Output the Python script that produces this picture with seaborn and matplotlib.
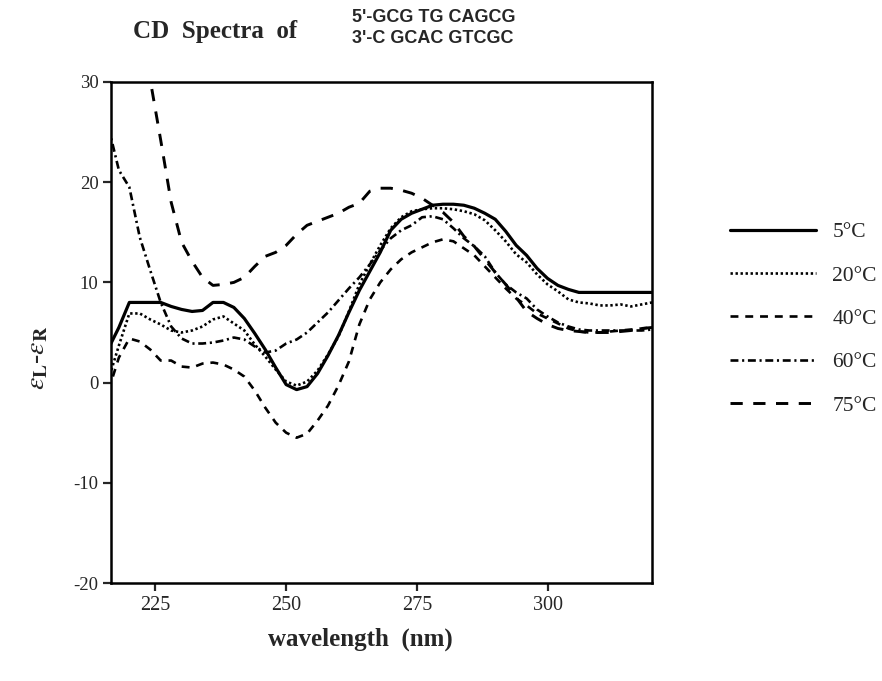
"""
CD spectra of the GCGTGCAGCG duplex at five temperatures.
"""
import numpy as np
import matplotlib
matplotlib.use('Agg')  # headless
import matplotlib.pyplot as plt
import seaborn as sns

WAVELENGTH = [216, 218, 220, 222, 224, 226, 228, 230, 232, 234, 236, 238,
              240, 242, 244, 246, 248, 250, 252, 254, 256, 258, 260, 262,
              264, 266, 268, 270, 272, 274, 276, 278, 280, 282, 284, 286,
              288, 290, 292, 294, 296, 298, 300, 302, 304, 306, 308, 310,
              312, 314, 316, 318, 320]

CD_5C = [3.4, 5.5, 8.0, 8.0, 8.0, 8.0, 7.6, 7.3, 7.1, 7.2, 8.0, 8.0,
         7.5, 6.4, 4.9, 3.3, 1.5, -0.2, -0.7, -0.4, 0.9, 2.7, 4.7, 7.0,
         9.2, 11.1, 13.0, 15.2, 16.3, 16.9, 17.3, 17.7, 17.8, 17.8, 17.7, 17.4,
         16.9, 16.3, 15.1, 13.7, 12.7, 11.4, 10.4, 9.7, 9.3, 9.0, 9.0, 9.0,
         9.0, 9.0, 9.0, 9.0, 9.0]

CD_20C = [0.3, 3.7, 6.9, 6.9, 6.3, 5.8, 5.2, 5.0, 5.2, 5.6, 6.3, 6.6,
          5.9, 5.2, 3.8, 2.6, 1.3, 0.1, -0.3, 0.1, 1.2, 2.8, 4.6, 7.1,
          9.8, 11.8, 13.7, 15.4, 16.5, 17.1, 17.3, 17.4, 17.4, 17.3, 17.1, 16.8,
          16.2, 15.2, 14.1, 12.8, 12.0, 10.8, 9.8, 9.1, 8.3, 8.0, 7.9, 7.7,
          7.7, 7.8, 7.6, 7.8, 8.0]

CD_40C = [-0.8, 2.5, 4.4, 4.1, 3.3, 2.2, 2.2, 1.6, 1.5, 1.9, 2.0, 1.8,
          1.3, 0.6, -0.8, -2.5, -4.0, -5.0, -5.5, -5.1, -3.8, -2.3, -0.3, 2.1,
          5.8, 8.3, 10.0, 11.3, 12.3, 13.0, 13.5, 14.0, 14.3, 14.1, 13.4, 12.7,
          11.6, 10.5, 9.4, 8.4, 7.7, 6.9, 6.4, 5.9, 5.4, 5.1, 5.0, 5.0,
          5.1, 5.2, 5.3, 5.4, 5.5]

CD_60C = [25.5, 21.2, 19.5, 14.5, 11.2, 8.0, 5.6, 4.4, 3.9, 3.9, 4.0, 4.2,
          4.5, 4.3, 3.6, 3.0, 3.2, 3.9, 4.3, 5.0, 6.0, 7.0, 8.2, 9.4,
          10.5, 11.8, 13.2, 14.4, 15.2, 15.7, 16.5, 16.6, 16.3, 15.4, 14.4, 13.6,
          12.6, 11.0, 9.8, 9.0, 8.4, 7.3, 6.6, 6.0, 5.6, 5.3, 5.2, 5.2,
          5.2, 5.2, 5.2, 5.2, 5.3]

CD_75C = [np.nan, np.nan, np.nan, 36.0, 30.2, 24.2, 18.0, 14.0, 12.1, 10.5, 9.7, 9.8,
          10.0, 10.5, 11.6, 12.6, 13.0, 13.7, 14.8, 15.7, 16.1, 16.5, 16.9, 17.5,
          17.9, 19.1, 19.4, 19.4, 19.2, 18.9, 18.4, 17.7, 17.0, 16.0, 14.6, 13.6,
          12.3, 11.0, 9.8, 8.5, 7.1, 6.4, 5.8, 5.4, 5.2, 5.1, 5.0, 5.0,
          5.0, 5.1, 5.2, 5.4, 5.5]

SERIES = [('5°C', CD_5C), ('20°C', CD_20C), ('40°C', CD_40C),
          ('60°C', CD_60C), ('75°C', CD_75C)]

STYLES = {'5°C': dict(linestyle='-', lw=2.3),
          '20°C': dict(linestyle=(0, (0.9, 1.0)), lw=1.9),
          '40°C': dict(linestyle=(0, (3.0, 2.6)), lw=1.9),
          '60°C': dict(linestyle=(0, (3.0, 1.4, 0.8, 1.4)), lw=1.9),
          '75°C': dict(linestyle=(0, (4.2, 3.6)), lw=2.1)}

sns.set_style('ticks')
plt.rcParams['font.family'] = ['Liberation Serif', 'DejaVu Serif']
plt.rcParams['mathtext.fontset'] = 'stix'
plt.rcParams['axes.unicode_minus'] = False


def main():
    fig = plt.figure(figsize=(8.82, 6.81), dpi=100)
    ax = fig.add_axes([0.1259, 0.1439, 0.6134, 0.7357])

    for label, values in SERIES:
        sns.lineplot(x=WAVELENGTH, y=values, ax=ax, color='black',
                     label=label, **STYLES[label])

    ax.set_xlim(216.5, 320)
    ax.set_ylim(-20, 30)
    ax.set_xticks([225, 250, 275, 300])
    ax.set_yticks([-20, -10, 0, 10, 20, 30])
    ax.tick_params(axis='x', direction='out', length=6, width=1.6,
                   labelsize=14.5, pad=3)
    ax.tick_params(axis='y', direction='out', length=6, width=1.6,
                   labelsize=13.5, pad=3)
    for sp in ax.spines.values():
        sp.set_visible(True)
        sp.set_linewidth(1.8)
        sp.set_color('black')

    ax.set_xlabel('wavelength  (nm)', fontsize=18, fontweight='bold')
    ax.xaxis.set_label_coords(0.46, -0.088)
    ax.set_ylabel(r'$\varepsilon_{\mathbf{L}}$-$\varepsilon_{\mathbf{R}}$',
                  fontsize=20)
    ax.yaxis.set_label_coords(-0.112, 0.45)

    ax.legend(loc='upper left', bbox_to_anchor=(1.144, 0.72),
              frameon=False, fontsize=15.5, handlelength=4.0,
              handletextpad=0.75, labelspacing=1.08, borderpad=0,
              borderaxespad=0)

    fig.text(0.151, 0.954, 'CD  Spectra  of', fontsize=18,
             fontweight='bold', va='center', ha='left')
    seq = dict(fontsize=13, fontweight='bold', va='center', ha='left',
               family=['Liberation Sans', 'DejaVu Sans'])
    fig.text(0.399, 0.974, "5'-GCG TG CAGCG", **seq)
    fig.text(0.399, 0.944, "3'-C GCAC GTCGC", **seq)

    fig.savefig('out.png', dpi=100)
    plt.close(fig)


if __name__ == '__main__':
    main()
